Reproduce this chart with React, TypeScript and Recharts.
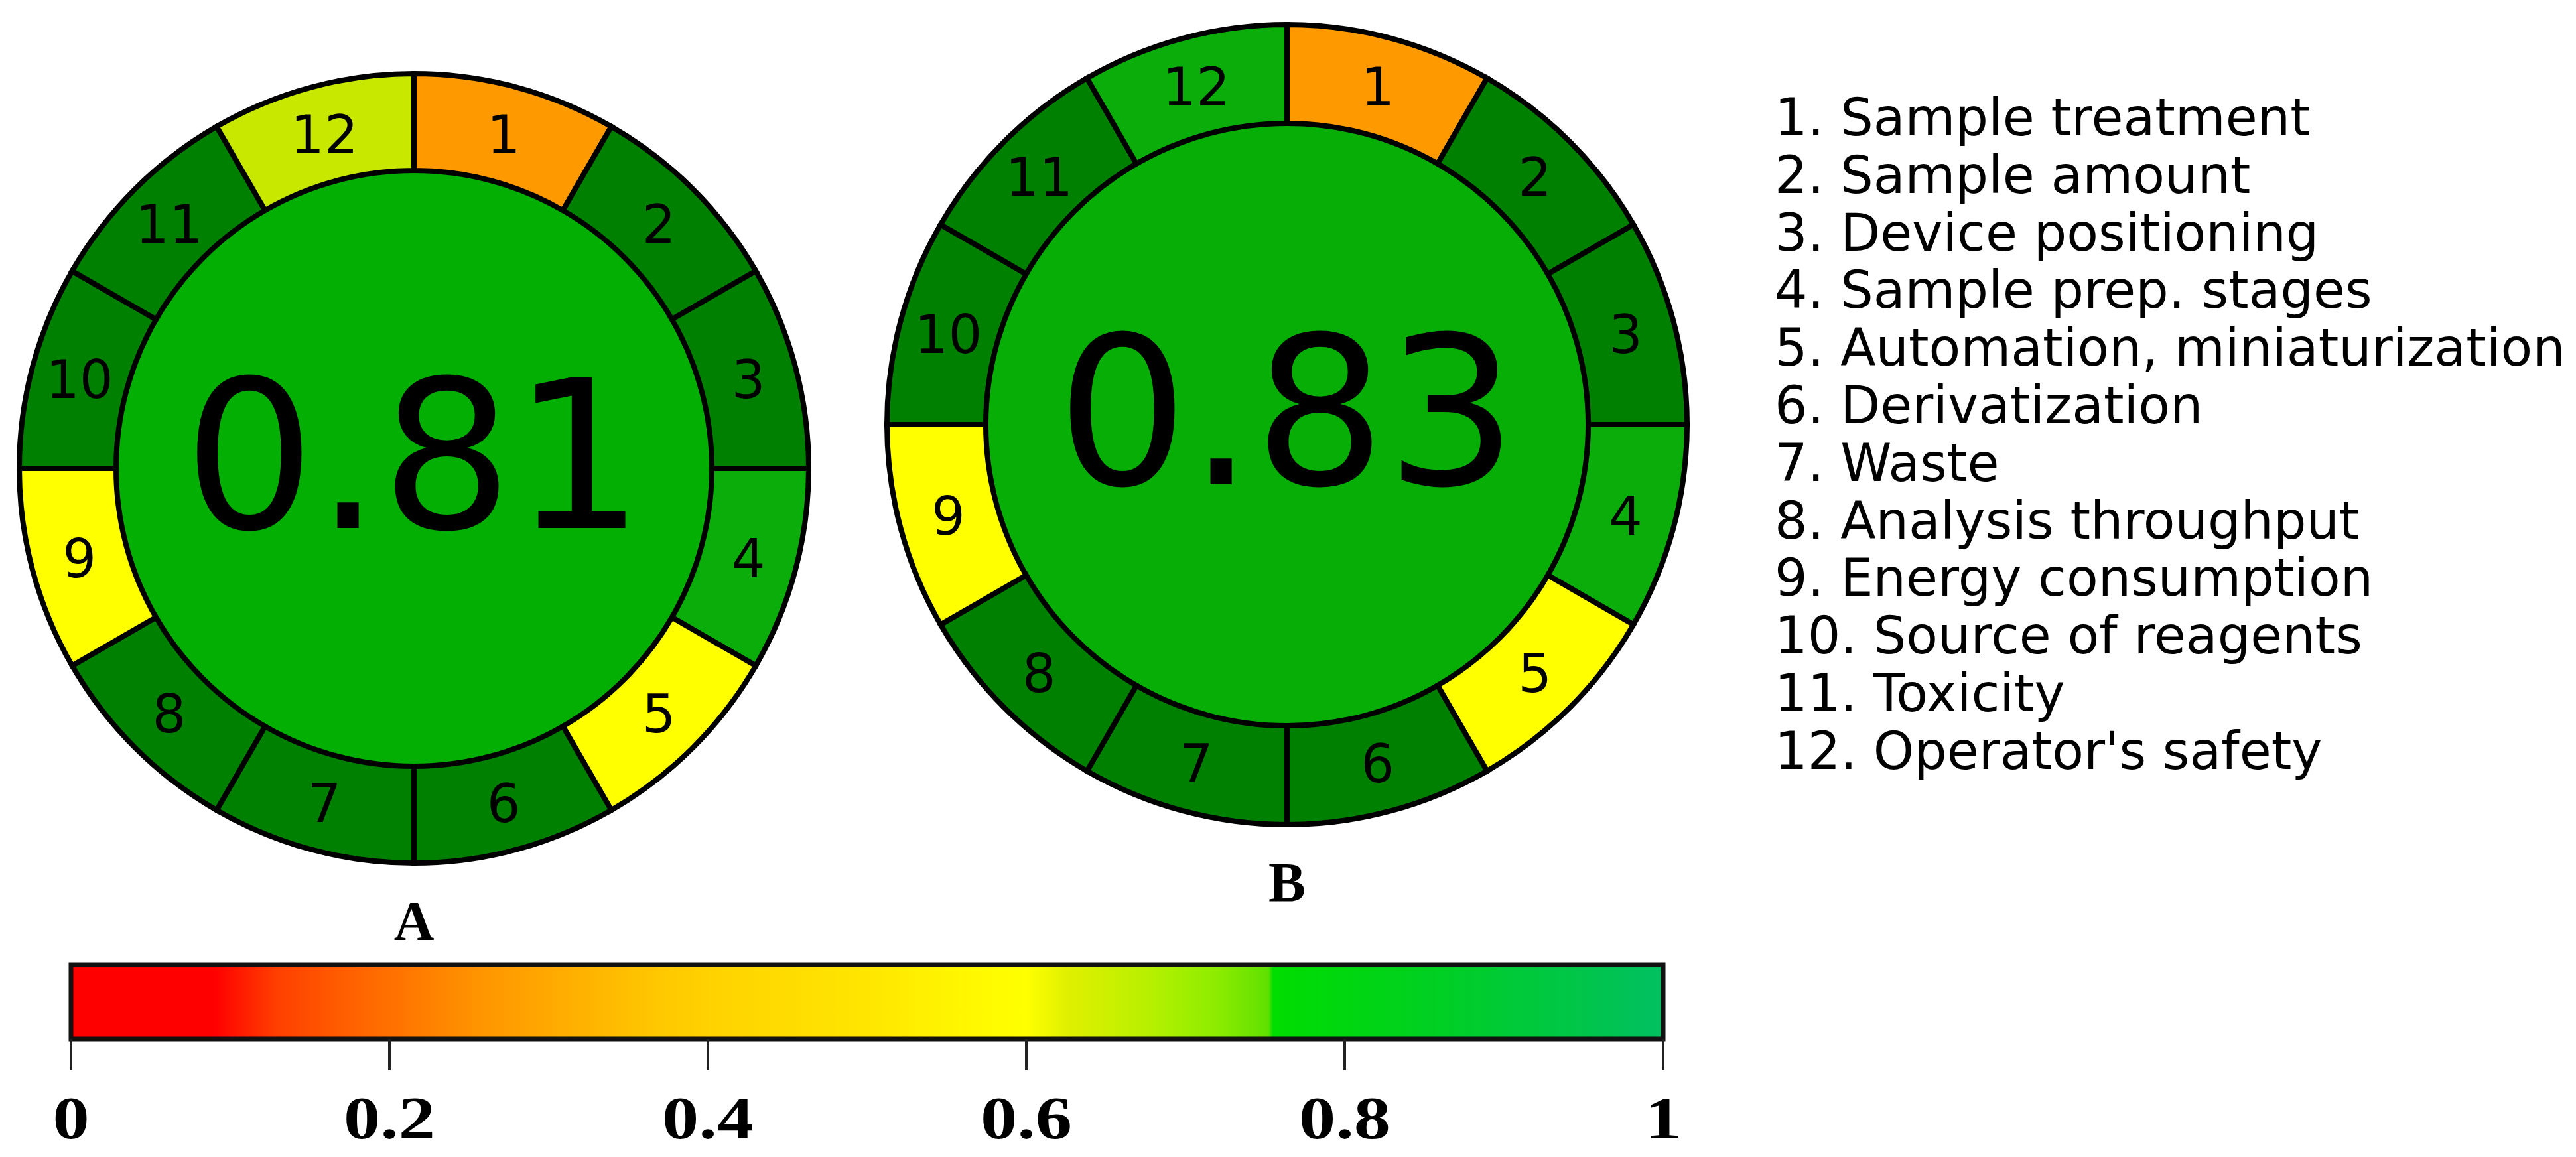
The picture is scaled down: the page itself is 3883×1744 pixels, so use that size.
import React from 'react';
import { PieChart, Pie, Cell, BarChart, Bar, XAxis, YAxis } from 'recharts';

// AGREEprep criteria, clockwise from 12 o'clock
const CRITERIA = [
  'Sample treatment',
  'Sample amount',
  'Device positioning',
  'Sample prep. stages',
  'Automation, miniaturization',
  'Derivatization',
  'Waste',
  'Analysis throughput',
  'Energy consumption',
  'Source of reagents',
  'Toxicity',
  "Operator's safety",
];
const WEIGHTS = [1, 1, 1, 1, 1, 1, 1, 1, 1, 1, 1, 1];
const SCORES_A = [0.25, 1, 1, 0.85, 0.5, 1, 1, 1, 0.5, 1, 1, 0.65];
const SCORES_B = [0.25, 1, 1, 0.85, 0.5, 1, 1, 1, 0.5, 1, 1, 0.85];
const TOTAL_A = 0.81;
const TOTAL_B = 0.83;
const SCALE_TICKS = [0, 0.2, 0.4, 0.6, 0.8, 1];

const SCORE_STOPS: [number, string][] = [
  [0, '#ff0000'],
  [0.25, '#ff9900'],
  [0.5, '#ffff00'],
  [0.65, '#c8e800'],
  [0.8, '#00b000'],
  [0.85, '#0aad0a'],
  [1, '#008000'],
];

// colour bar gradient (offset, colour)
const BAR_STOPS: [number, string][] = [
  [0, '#ff0000'],
  [0.09, '#ff0000'],
  [0.13, '#ff4000'],
  [0.183, '#ff6600'],
  [0.2, '#ff7000'],
  [0.236, '#ff8800'],
  [0.263, '#ff9800'],
  [0.316, '#ffb000'],
  [0.369, '#ffc800'],
  [0.414, '#ffd500'],
  [0.493, '#ffe400'],
  [0.5625, '#fff700'],
  [0.6, '#ffff00'],
  [0.626, '#e0f000'],
  [0.68, '#b4f000'],
  [0.72, '#8cec00'],
  [0.752, '#60e000'],
  [0.755, '#00dd00'],
  [0.85, '#00d020'],
  [1, '#00c060'],
];

const hexToRgb = (h: string) => [1, 3, 5].map(i => parseInt(h.slice(i, i + 2), 16));

function scoreColor(v: number) {
  for (let i = 1; i < SCORE_STOPS.length; i++) {
    const [v0, c0] = SCORE_STOPS[i - 1];
    const [v1, c1] = SCORE_STOPS[i];
    if (v <= v1) {
      const t = (v - v0) / (v1 - v0);
      const a = hexToRgb(c0);
      const b = hexToRgb(c1);
      const rgb = a.map((x, k) => Math.round(x + (b[k] - x) * t));
      return `rgb(${rgb.join(',')})`;
    }
  }
  return SCORE_STOPS[SCORE_STOPS.length - 1][1];
}

const RADIAN = Math.PI / 180;
const STROKE = 8;

const ringData = (scores: number[]) =>
  scores.map((s, i) => ({ id: i + 1, weight: WEIGHTS[i], score: s }));

const ringLabel = (p: any) => {
  const r = (p.innerRadius + p.outerRadius) / 2;
  const x = p.cx + r * Math.cos(-p.midAngle * RADIAN);
  const y = p.cy + r * Math.sin(-p.midAngle * RADIAN);
  return (
    <text x={x} y={y + 29} textAnchor="middle" fontFamily="DejaVu Sans" fontSize={80} fill="#000">
      {p.payload.id}
    </text>
  );
};

const centerLabel = (panel: string, total: number, ringOuter: number) => (p: any) => (
  <g>
    <text x={p.cx} y={p.cy + 90} textAnchor="middle" fontFamily="DejaVu Sans" fontSize={312} fill="#000">
      {total.toFixed(2)}
    </text>
    <text
      x={p.cx}
      y={p.cy + ringOuter + 112}
      textAnchor="middle"
      fontFamily="Liberation Serif"
      fontWeight="bold"
      fontSize={84}
      fill="#000"
    >
      {panel}
    </text>
  </g>
);

const ScaleTick = ({ x, y, payload }: any) => (
  <g transform={`translate(${x},${y + 103})`}>
    <text
      transform="scale(1.2,1)"
      textAnchor="middle"
      fontFamily="Liberation Serif"
      fontWeight="bold"
      fontSize={92}
      fill="#000"
    >
      {String(payload.value)}
    </text>
  </g>
);

const PANELS = [
  { name: 'A', scores: SCORES_A, total: TOTAL_A, cx: 624, cy: 706, inner: 449, outer: 595 },
  { name: 'B', scores: SCORES_B, total: TOTAL_B, cx: 1940, cy: 640, inner: 454, outer: 603 },
];

const App: React.FC = () => {
  return (
    <div
      style={{
        position: 'absolute',
        left: 0,
        top: 0,
        width: 3883,
        height: 1744,
        background: '#fff',
        overflow: 'hidden',
      }}
    >
      <div style={{ position: 'absolute', left: 0, top: 0 }}>
        <PieChart width={2650} height={1440} margin={{ top: 0, right: 0, bottom: 0, left: 0 }}>
          {PANELS.flatMap(pn => [
            <Pie
              key={pn.name + '-center'}
              data={[{ name: pn.name, value: 1 }]}
              dataKey="value"
              cx={pn.cx}
              cy={pn.cy}
              innerRadius={0}
              outerRadius={pn.inner}
              startAngle={90}
              endAngle={-270}
              stroke="none"
              fill={scoreColor(pn.total)}
              label={centerLabel(pn.name, pn.total, pn.outer + STROKE / 2)}
              labelLine={false}
              isAnimationActive={false}
            />,
            <Pie
              key={pn.name + '-ring'}
              data={ringData(pn.scores)}
              dataKey="weight"
              cx={pn.cx}
              cy={pn.cy}
              innerRadius={pn.inner}
              outerRadius={pn.outer}
              startAngle={90}
              endAngle={-270}
              stroke="#000"
              strokeWidth={STROKE}
              label={ringLabel}
              labelLine={false}
              isAnimationActive={false}
            >
              {pn.scores.map((s, i) => (
                <Cell key={i} fill={scoreColor(s)} stroke="#000" strokeWidth={STROKE} />
              ))}
            </Pie>,
          ])}
        </PieChart>
      </div>

      <div
        style={{
          position: 'absolute',
          left: 2675,
          top: 134,
          fontFamily: 'DejaVu Sans',
          fontSize: 78,
          lineHeight: '86.8px',
          whiteSpace: 'nowrap',
          color: '#000',
        }}
      >
        {CRITERIA.map((c, i) => (
          <div key={c}>
            {i + 1}. {c}
          </div>
        ))}
      </div>

      <div style={{ position: 'absolute', left: 0, top: 1446 }}>
        <BarChart
          width={2700}
          height={298}
          layout="vertical"
          data={[{ name: 'score', value: 1 }]}
          margin={{ top: 8, right: 193, bottom: 0, left: 107 }}
          barCategoryGap={0}
        >
          <defs>
            <linearGradient id="scaleGrad" x1="0" y1="0" x2="1" y2="0">
              {BAR_STOPS.map(([o, c]) => (
                <stop key={o} offset={o} stopColor={c} />
              ))}
            </linearGradient>
          </defs>
          <XAxis
            type="number"
            domain={[0, 1]}
            ticks={SCALE_TICKS}
            interval={0}
            height={178}
            axisLine={false}
            tickLine={{ stroke: '#222', strokeWidth: 4 }}
            tickSize={47}
            tickMargin={0}
            tick={<ScaleTick />}
          />
          <YAxis type="category" dataKey="name" hide />
          <Bar dataKey="value" fill="url(#scaleGrad)" stroke="#111" strokeWidth={7} isAnimationActive={false} />
        </BarChart>
      </div>
    </div>
  );
};

export default App;
